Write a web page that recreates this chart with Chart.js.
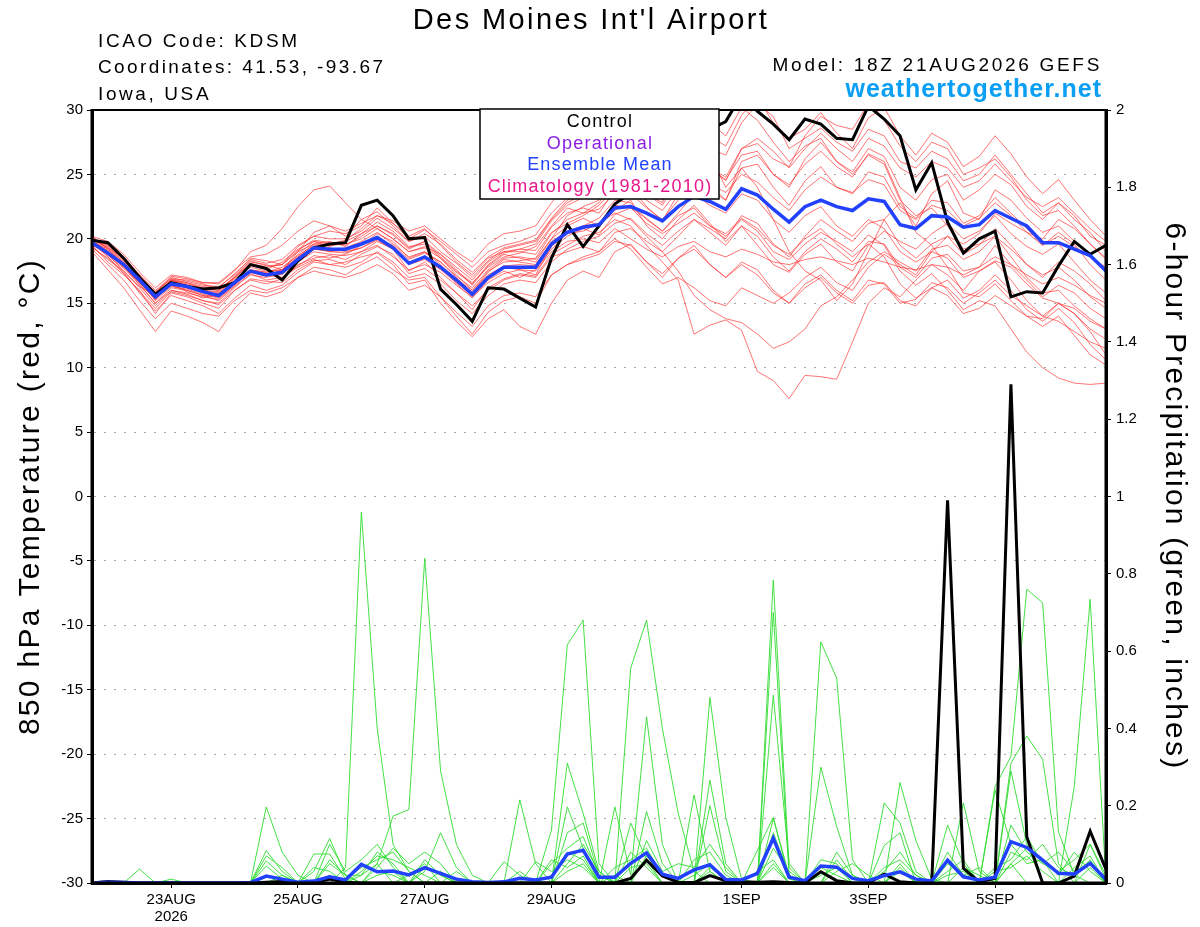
<!DOCTYPE html>
<html>
<head>
<meta charset="utf-8">
<title>Des Moines Int'l Airport - GEFS 850 hPa temperature and precipitation</title>
<script src="https://cdn.jsdelivr.net/npm/chart.js@4.4.1/dist/chart.umd.min.js"></script>
<style>
  html, body { margin: 0; padding: 0; background: #fff; }
  #wrap { width: 1200px; height: 927px; }
</style>
</head>
<body>
<div id="wrap"><canvas id="chart" width="1200" height="927"></canvas></div>
<script>
// GEFS run 18Z 21AUG2026, 6-hourly steps out to 384 h
const FONT = "'Liberation Sans', Arial, Helvetica, sans-serif";

const tickHours = [30, 78, 126, 174, 246, 294, 342];
const tickLabels = ['23AUG', '25AUG', '27AUG', '29AUG', '1SEP', '3SEP', '5SEP'];
const firstTickYear = '2026';

// 850 hPa temperature (C)
const tempControl = [
  19.9,19.7,18.5,17.0,15.7,16.6,16.3,16.1,16.2,16.6,
  18.0,17.7,16.8,18.3,19.3,19.6,19.7,22.6,23.0,21.8,
  20.0,20.1,16.1,14.9,13.6,16.2,16.1,15.4,14.7,18.5,
  21.1,19.4,21.0,22.7,23.6,24.6,25.5,26.5,27.5,28.5,
  29.1,31.2,29.9,28.9,27.7,29.3,28.9,27.8,27.7,30.3,
  29.3,28.0,23.8,25.9,21.3,18.9,20.0,20.6,15.5,15.9,
  15.8,17.9,19.8,18.8,19.5];
const tempMean = [
  19.7,18.9,18.0,16.8,15.5,16.5,16.3,15.9,15.6,16.6,
  17.5,17.2,17.4,18.4,19.3,19.2,19.2,19.6,20.1,19.3,
  18.1,18.6,17.8,16.8,15.7,17.0,17.8,17.8,17.8,19.6,
  20.5,20.9,21.1,22.4,22.5,22.0,21.4,22.5,23.3,22.9,
  22.3,23.9,23.4,22.3,21.3,22.5,23.0,22.5,22.2,23.1,
  22.9,21.1,20.8,21.8,21.7,20.9,21.1,22.2,21.6,21.0,
  19.7,19.7,19.2,18.7,17.5];

const tempMem01 = [
  20.1,19.5,18.4,17.0,15.9,16.9,16.8,16.5,16.1,17.0,
  18.2,18.0,17.6,19.0,20.5,21.0,20.2,21.5,22.1,21.0,
  19.8,20.2,19.0,18.1,17.0,18.3,19.2,19.5,19.8,21.5,
  22.8,23.5,23.9,25.2,25.8,25.0,24.5,26.0,27.2,27.0,
  26.5,29.0,30.5,29.5,27.0,27.8,28.6,27.5,26.8,28.5,
  28.0,26.0,25.5,26.8,26.2,24.5,25.0,26.5,25.0,23.5,
  22.0,22.8,21.5,20.5,19.0];
const tempMem02 = [
  19.5,18.2,17.2,16.0,14.2,15.8,15.5,15.0,14.6,16.0,
  16.8,16.5,16.9,18.0,18.5,18.7,18.4,19.0,19.8,19.2,
  17.5,18.2,17.0,15.8,14.5,16.2,16.9,17.3,17.1,18.8,
  19.5,20.2,20.5,21.5,21.0,19.5,18.2,16.8,12.6,13.3,
  13.7,12.9,9.7,9.0,7.6,9.4,9.3,9.1,12.0,15.0,
  16.2,15.5,16.8,18.0,17.2,16.0,17.5,18.3,17.8,16.5,
  15.4,15.0,14.2,13.0,12.2];
const tempMem03 = [
  19.8,18.8,17.5,16.2,14.8,16.0,15.7,15.2,15.0,16.2,
  17.3,16.8,17.0,17.9,18.7,18.5,18.8,19.5,20.4,19.8,
  18.5,19.0,18.0,16.5,15.4,16.8,17.5,17.0,17.6,19.2,
  20.2,20.8,20.3,21.9,22.4,21.6,20.6,21.8,22.4,21.0,
  20.2,21.5,20.6,19.0,18.4,19.6,20.5,19.8,19.0,20.3,
  19.5,17.5,16.4,17.3,16.0,14.5,15.2,14.8,13.0,11.2,
  10.0,9.2,8.8,8.7,8.8];
const tempMem04 = [
  20.2,19.8,18.8,17.4,16.2,17.2,17.0,16.6,16.5,17.5,
  19.0,19.5,20.8,22.5,23.8,24.1,22.8,21.5,20.8,20.0,
  19.0,19.4,18.8,17.6,16.4,17.9,18.8,18.5,18.2,20.0,
  21.8,22.5,23.0,24.8,24.0,22.5,21.4,23.5,25.2,24.2,
  23.0,25.5,25.8,24.0,22.6,24.5,25.6,24.0,23.5,25.2,
  24.8,22.5,21.6,23.0,22.8,21.2,21.8,23.2,22.0,20.8,
  19.5,20.5,19.6,18.0,16.8];
const tempMem05 = [
  19.0,17.6,16.2,14.5,12.8,14.4,14.0,13.5,12.8,14.6,
  15.8,15.5,15.9,17.0,17.8,17.6,17.2,18.0,18.6,17.6,
  16.8,17.0,15.5,14.0,12.6,14.3,15.2,15.5,15.0,17.2,
  18.0,18.6,19.0,20.5,20.8,19.8,19.0,20.2,21.5,20.5,
  19.5,21.0,20.2,18.6,17.5,19.0,20.0,19.2,18.2,19.8,
  19.6,17.8,17.0,18.5,18.8,17.5,17.8,19.5,18.0,16.8,
  15.5,16.4,15.8,14.6,13.8];
const tempMem06 = [
  19.9,19.0,17.8,16.6,15.3,16.6,16.2,15.8,15.5,16.5,
  17.4,17.1,17.6,18.8,19.8,19.4,19.8,20.4,21.3,20.6,
  19.4,19.6,18.5,17.4,16.5,18.0,18.9,19.2,19.1,20.9,
  22.0,22.4,22.0,23.8,24.8,24.0,23.2,24.5,26.0,25.5,
  24.8,27.0,27.4,26.2,25.6,28.0,29.5,28.8,28.5,30.5,
  29.2,27.2,26.0,27.5,27.0,25.0,25.5,26.2,24.8,23.0,
  21.8,22.2,21.0,19.6,18.4];
const tempMem07 = [
  19.6,18.7,17.7,16.5,15.0,16.2,16.0,15.6,15.2,16.3,
  17.2,17.0,17.3,18.2,19.0,18.8,18.7,19.0,19.5,18.6,
  17.6,18.0,17.4,16.4,15.5,16.6,17.3,17.6,17.5,19.0,
  19.8,20.0,19.7,20.8,20.0,19.2,18.6,19.4,19.8,19.0,
  18.6,19.2,18.8,18.2,18.0,18.4,18.6,18.3,18.0,18.5,
  18.2,17.8,17.6,18.0,17.8,17.2,17.8,18.6,18.0,17.2,
  16.5,17.0,16.4,15.6,15.0];
const tempMem08 = [
  19.4,18.4,17.5,16.3,15.6,16.4,15.9,15.4,15.8,16.8,
  17.5,17.2,17.0,17.8,18.4,18.0,18.2,18.6,18.9,18.0,
  16.5,16.8,15.0,13.6,12.4,13.8,14.5,13.2,12.6,15.0,
  16.8,17.5,17.0,19.0,19.6,18.2,17.0,18.5,19.5,18.0,
  17.0,18.0,17.2,15.8,15.0,16.5,17.2,16.0,15.2,16.8,
  16.5,15.0,15.3,16.6,16.2,15.0,15.8,16.8,15.6,14.8,
  14.0,15.0,14.2,12.8,11.0];
const tempMem09 = [
  20.0,19.6,18.6,17.2,16.0,17.0,16.7,16.4,16.3,17.2,
  18.5,18.3,18.0,19.4,20.2,20.6,20.4,21.0,22.4,21.2,
  20.0,20.7,19.8,18.8,17.8,19.0,19.5,19.8,20.3,22.0,
  23.2,24.0,24.4,26.0,26.8,25.8,25.0,27.5,28.6,28.0,
  27.2,29.6,31.0,29.0,27.8,28.5,29.8,28.2,27.0,29.4,
  30.2,28.0,26.5,28.2,27.5,25.6,26.4,28.0,26.6,24.8,
  23.5,24.6,23.0,21.5,20.2];
const tempMem10 = [
  19.7,18.6,17.4,15.8,14.4,15.6,15.2,14.8,14.2,15.4,
  16.4,16.0,16.4,17.4,18.2,18.0,17.8,18.2,19.0,18.2,
  17.0,17.3,16.5,15.2,14.2,15.6,16.5,16.8,16.6,18.2,
  19.2,19.8,20.2,21.2,21.6,20.4,19.5,20.6,21.5,20.8,
  20.0,21.8,21.2,19.6,18.6,20.2,21.5,20.6,19.8,21.2,
  21.5,19.5,18.5,19.6,20.2,18.8,19.5,20.8,19.5,18.0,
  17.2,17.8,16.8,15.5,14.6];
const tempMem11 = [
  20.1,19.2,18.2,16.9,15.5,16.8,16.5,16.2,16.0,17.0,
  18.0,17.6,18.2,19.2,19.8,19.6,19.9,20.8,21.8,21.2,
  20.2,20.8,19.5,18.2,17.2,18.5,19.0,19.0,18.8,20.5,
  21.2,21.8,22.6,24.0,23.5,22.4,21.5,23.0,24.5,23.8,
  23.0,26.0,26.5,25.0,24.0,26.2,27.5,26.0,25.2,27.0,
  26.4,24.0,23.0,24.6,25.0,23.0,23.8,25.0,24.2,22.5,
  21.5,22.8,21.8,20.2,19.5];
const tempMem12 = [
  19.8,19.1,18.1,16.8,15.2,16.3,16.1,15.7,15.4,16.4,
  17.6,17.4,17.8,18.7,19.5,19.3,19.0,19.3,20.0,19.5,
  18.4,18.9,18.2,17.0,15.8,17.4,18.4,18.2,18.0,19.8,
  20.6,21.0,21.6,23.0,22.8,21.5,20.6,22.0,23.5,22.6,
  22.0,23.5,23.0,21.5,20.5,21.8,22.5,21.0,20.2,21.5,
  20.8,19.0,18.2,19.0,18.5,17.0,17.5,18.2,16.8,15.2,
  14.0,13.6,12.8,12.0,11.5];
const tempMem13 = [
  19.5,18.9,17.9,16.4,15.0,16.0,15.8,15.5,15.3,16.4,
  17.4,17.3,17.5,18.6,19.4,19.0,19.1,19.6,20.2,19.4,
  18.0,18.4,17.6,16.6,15.6,17.0,17.8,17.6,17.2,19.4,
  20.4,20.6,21.2,22.0,21.5,20.2,19.0,17.5,15.6,14.5,
  13.8,13.5,12.6,11.5,12.0,13.0,14.8,15.5,16.8,18.2,
  19.0,18.2,17.5,19.2,19.5,18.4,19.0,20.2,19.2,18.0,
  17.0,18.2,17.5,16.5,15.2];
const tempMem14 = [
  20.0,19.4,18.3,17.2,15.8,17.1,16.9,16.6,16.6,17.6,
  18.6,18.8,19.5,20.6,21.4,21.0,20.6,21.2,21.8,21.4,
  20.6,21.0,20.0,19.0,18.2,19.6,20.4,20.6,21.0,22.8,
  24.2,25.0,25.2,26.0,25.4,24.0,23.0,25.2,26.5,25.6,
  24.5,27.0,27.8,26.8,25.5,27.0,28.2,27.0,26.0,27.8,
  27.2,25.5,24.8,26.0,25.5,24.0,24.5,25.8,24.5,23.2,
  22.5,23.2,22.0,20.8,19.8];
const tempMem15 = [
  19.2,18.0,16.8,15.2,13.8,15.0,14.6,14.2,14.0,15.2,
  16.0,15.8,16.2,17.0,17.5,17.2,17.0,17.4,18.0,17.3,
  16.0,16.4,15.5,14.3,13.2,14.8,15.6,15.8,15.5,17.2,
  18.0,18.4,18.8,19.8,19.5,18.2,17.3,18.5,19.2,18.0,
  17.0,18.2,17.6,16.0,15.0,16.2,17.0,15.8,15.0,16.4,
  16.6,15.2,14.8,16.2,16.8,15.4,16.0,17.2,16.0,14.5,
  13.6,14.6,13.5,11.8,10.6];
const tempMem16 = [
  19.9,19.3,18.5,17.0,15.6,16.7,16.4,16.0,15.8,16.9,
  17.8,17.5,17.6,18.6,19.6,19.5,19.6,20.0,20.8,20.0,
  19.0,19.3,18.5,17.2,16.0,17.5,18.2,18.3,18.5,20.4,
  21.5,22.0,22.3,23.5,23.6,23.0,22.2,23.8,24.8,24.3,
  23.6,25.0,24.4,23.2,22.2,23.8,24.8,24.0,23.6,24.6,
  24.2,22.2,21.5,22.6,22.2,21.0,21.6,22.8,21.8,20.5,
  19.5,20.2,19.4,18.6,17.6];
const tempMem17 = [
  20.0,19.5,18.5,17.1,15.8,16.9,16.6,16.3,16.2,17.3,
  18.4,18.1,18.4,19.5,20.2,20.0,20.0,20.6,21.6,20.8,
  19.8,20.4,19.6,18.4,17.4,18.6,19.3,19.6,19.9,21.6,
  23.0,23.6,24.2,25.5,26.5,26.0,25.6,28.0,29.5,29.0,
  28.0,30.2,29.2,27.5,26.0,27.2,27.8,26.0,25.0,26.5,
  25.8,23.0,21.8,22.4,21.0,19.2,19.6,20.2,18.6,17.0,
  15.8,16.0,14.8,13.8,13.0];
const tempMem18 = [
  19.6,18.8,17.8,16.6,15.4,16.4,16.0,15.6,15.5,16.6,
  17.6,17.4,17.6,18.5,19.2,19.0,18.9,19.3,19.9,19.2,
  18.2,18.6,17.9,16.9,16.0,17.2,17.9,18.0,17.9,19.5,
  20.5,21.0,21.2,22.6,22.4,21.2,20.4,21.2,22.0,21.0,
  20.4,21.6,20.8,19.5,18.8,20.0,20.8,19.6,18.6,19.6,
  18.6,16.5,15.4,16.2,15.6,14.2,14.6,15.6,14.8,14.0,
  13.8,15.0,14.6,13.6,13.0];
const tempMem19 = [
  19.8,19.2,18.0,16.7,15.6,16.8,16.4,16.0,15.9,17.1,
  18.3,17.9,18.0,19.0,19.6,19.8,19.4,20.4,21.0,20.3,
  19.2,19.8,18.6,17.5,16.6,17.8,18.6,18.9,19.4,21.0,
  22.4,22.0,22.8,24.5,25.0,23.5,22.8,26.0,28.0,26.5,
  24.0,25.5,24.0,21.5,19.0,17.5,16.8,15.2,16.5,19.0,
  21.5,22.8,21.0,23.5,24.5,22.0,21.5,23.8,23.0,21.6,
  20.5,21.0,19.8,18.6,17.8];
const tempMem20 = [
  19.3,18.5,17.3,15.9,14.6,15.9,15.6,15.2,14.9,16.0,
  16.9,16.7,16.6,17.6,18.3,18.4,18.0,18.8,19.4,18.8,
  17.3,17.7,16.8,15.8,14.8,16.0,16.8,17.2,17.0,18.6,
  19.0,19.4,19.0,20.0,19.2,17.8,16.5,17.0,16.2,15.2,
  14.8,16.2,15.6,15.0,15.8,17.0,17.8,16.6,16.0,17.8,
  18.8,18.0,17.2,19.0,20.2,19.6,20.4,22.0,21.2,20.5,
  20.0,21.5,20.8,19.6,18.5];
const tempMem21 = [
  20.0,19.3,18.2,16.9,15.7,16.8,16.6,16.1,16.0,17.0,
  18.1,17.8,18.0,19.1,19.9,19.7,19.5,20.2,21.0,20.4,
  19.3,19.8,18.8,17.8,16.8,18.2,19.0,19.2,19.6,21.4,
  22.6,23.2,23.4,24.8,24.6,23.5,22.6,24.6,26.2,25.4,
  24.6,26.5,26.8,25.0,24.2,25.8,26.8,25.6,24.8,26.6,
  26.0,23.2,20.5,19.5,17.8,15.8,15.5,16.5,15.2,14.0,
  13.2,14.0,12.5,11.0,10.2];
const tempMem22 = [
  19.7,18.9,17.9,16.6,15.3,16.5,16.2,15.9,15.7,16.6,
  17.5,17.3,17.2,18.4,19.2,19.1,19.3,19.8,20.5,19.6,
  18.6,19.0,18.2,17.1,16.2,17.6,18.5,18.6,18.4,20.0,
  21.0,21.6,21.0,22.2,23.0,21.0,20.0,21.5,22.6,21.2,
  19.8,21.0,19.5,18.0,17.4,18.8,19.6,18.2,17.5,19.5,
  20.6,19.8,19.2,20.4,21.2,20.0,20.6,21.8,20.4,19.4,
  18.8,19.6,18.2,16.8,15.8];

// 6-hour precipitation (inches)
const precipControl = [
  0,0.004,0.002,0,0,0,0,0,0,0,
  0,0.002,0.004,0,0,0.01,0.002,0,0,0,
  0,0,0,0,0,0,0,0,0,0,
  0,0,0,0,0.012,0.059,0.018,0.002,0.001,0.019,
  0.006,0.003,0.002,0.003,0.001,0,0.029,0.006,0,0,
  0.023,0.003,0,0,0.99,0.038,0.003,0.012,1.29,0.12,
  0,0,0.018,0.134,0.035];
const precipMean = [
  0,0.002,0.001,0,0,0,0,0,0,0,
  0.001,0.018,0.01,0.002,0.005,0.016,0.008,0.048,0.029,0.031,
  0.021,0.04,0.025,0.01,0.003,0.001,0.003,0.012,0.008,0.015,
  0.075,0.085,0.015,0.015,0.051,0.078,0.023,0.012,0.034,0.047,
  0.009,0.008,0.025,0.116,0.015,0.006,0.044,0.041,0.012,0.006,
  0.019,0.029,0.01,0.005,0.059,0.016,0.008,0.015,0.107,0.092,
  0.059,0.025,0.023,0.051,0.009];

const precipMem01 = [
  0,0,0,0.036,0,0.01,0,0,0,0,
  0,0.197,0.08,0.02,0,0,0.04,0.96,0.4,0.1,
  0.03,0,0,0,0,0,0,0.215,0.05,0,
  0.13,0.155,0.02,0,0,0,0,0,0,0.2,
  0.03,0,0,0.784,0.04,0,0,0,0,0,
  0.097,0.13,0,0,0.08,0.02,0,0,0.31,0.38,
  0.32,0.05,0,0,0];
const precipMem02 = [
  0,0,0,0,0,0,0,0,0,0,
  0,0.084,0.03,0,0.03,0.115,0.02,0,0.05,0.173,
  0.19,0.84,0.29,0.1,0.02,0,0,0,0,0.137,
  0.616,0.68,0.05,0,0,0.185,0.05,0,0.228,0.03,
  0,0,0,0.486,0.05,0,0.3,0.146,0.02,0,
  0,0,0,0,0,0,0,0.25,0.327,0.76,
  0.725,0.133,0.02,0,0];
const precipMem03 = [
  0,0,0,0,0,0,0,0,0,0,
  0,0.07,0.04,0,0,0.1,0.03,0.06,0.1,0.04,
  0,0.03,0.13,0.04,0,0,0,0,0,0,
  0.31,0.18,0.03,0,0.556,0.68,0.4,0.18,0.03,0,
  0,0,0,0.7,0.02,0,0.624,0.53,0.06,0,
  0,0.26,0.11,0.01,0,0,0,0,0.05,0,
  0,0,0.25,0.734,0];
const precipMem04 = [
  0,0,0,0,0,0,0,0,0,0,
  0,0.057,0.02,0,0.075,0.075,0.01,0.04,0.06,0.08,
  0.03,0,0,0,0,0,0.055,0.02,0,0,
  0.197,0.09,0,0.197,0.02,0.43,0.1,0,0,0.48,
  0.17,0.01,0,0.167,0.02,0,0,0,0,0,
  0.207,0.155,0.03,0,0,0.207,0.03,0,0.29,0.1,
  0,0,0,0.1,0.02];
const precipMem05 = [
  0,0,0,0,0,0,0,0,0,0,
  0,0.044,0.01,0,0,0.06,0.02,0.02,0.08,0.05,
  0,0.06,0.02,0,0,0,0,0,0.055,0.03,
  0.06,0.04,0,0,0.155,0.06,0,0,0,0.266,
  0.05,0,0.085,0.17,0.01,0,0,0.08,0.02,0,
  0,0,0,0,0.15,0.05,0,0.24,0.1,0.05,
  0.06,0.02,0.08,0.03,0];
const precipMem06 = [
  0,0,0,0,0,0,0,0,0,0,
  0,0,0,0,0.04,0.03,0,0.03,0.07,0.06,
  0.04,0.02,0,0.03,0,0,0,0,0,0.06,
  0.04,0.07,0,0.04,0.06,0.09,0.02,0,0.06,0.08,
  0.02,0,0,0.13,0.02,0,0.06,0.05,0,0,
  0.04,0.06,0.02,0,0.03,0.06,0,0.04,0.06,0.12,
  0.05,0.03,0.06,0.1,0.01];
const precipMem07 = [
  0,0,0,0,0,0,0,0,0,0,
  0,0,0.02,0,0,0.05,0.02,0,0.04,0.09,
  0.05,0.08,0.05,0,0,0,0,0.03,0,0.05,
  0.09,0.12,0.02,0,0,0.11,0.03,0.05,0.04,0.1,
  0.04,0,0,0.09,0.03,0,0,0.03,0.05,0.02,
  0,0.04,0,0,0.05,0.02,0.04,0,0.15,0.08,
  0.05,0.08,0.03,0.05,0];
const precipMem08 = [
  0,0,0,0,0,0,0,0,0,0,
  0,0.02,0,0,0,0.02,0,0.05,0.03,0.02,
  0,0.04,0.02,0,0,0,0,0,0,0,
  0.05,0.1,0.03,0,0.04,0.05,0,0,0.02,0.05,
  0,0,0.03,0.06,0,0,0.04,0.02,0,0,
  0.03,0.08,0.02,0,0,0.04,0.02,0,0.08,0.06,
  0.1,0.04,0.02,0.06,0];
const precipMem09 = [
  0,0,0,0,0,0,0,0,0,0,
  0,0,0,0,0,0,0,0.02,0.05,0,
  0.02,0.05,0,0,0,0,0,0,0,0.02,
  0.08,0.06,0,0,0.08,0.04,0,0,0,0.04,
  0.01,0,0,0.05,0,0,0.02,0.04,0,0,
  0,0.03,0,0,0.02,0.03,0,0,0.05,0.09,
  0.06,0,0.04,0.07,0];
const precipMem10 = [
  0,0,0,0,0,0.004,0,0,0,0,
  0,0,0,0,0,0,0,0,0.02,0.03,
  0,0,0.03,0,0,0,0,0,0,0,
  0.03,0.05,0,0.02,0,0.07,0.02,0,0,0.03,
  0,0,0,0.04,0,0,0,0.06,0.01,0,
  0,0.05,0,0,0,0,0,0.03,0.04,0.07,
  0.03,0,0,0.04,0];

const tempMembers = [tempMem01, tempMem02, tempMem03, tempMem04, tempMem05, tempMem06,
  tempMem07, tempMem08, tempMem09, tempMem10, tempMem11, tempMem12, tempMem13, tempMem14,
  tempMem15, tempMem16, tempMem17, tempMem18, tempMem19, tempMem20, tempMem21, tempMem22];
const precipMembers = [precipMem01, precipMem02, precipMem03, precipMem04, precipMem05,
  precipMem06, precipMem07, precipMem08, precipMem09, precipMem10];

// forecast hour of each point
const hours = [];
for (let h = 0; h <= 384; h += 6) hours.push(h);

const datasets = [];
datasets.push({ label: 'Ensemble Mean', data: tempMean, yAxisID: 'yT', borderColor: '#2241ff', borderWidth: 3.5, order: 0 });
datasets.push({ label: 'Ensemble Mean precip', data: precipMean, yAxisID: 'yP', borderColor: '#2241ff', borderWidth: 3.5, order: 0 });
datasets.push({ label: 'Control', data: tempControl, yAxisID: 'yT', borderColor: '#000', borderWidth: 3, order: 1 });
datasets.push({ label: 'Control precip', data: precipControl, yAxisID: 'yP', borderColor: '#000', borderWidth: 3, order: 1 });
tempMembers.forEach((m, i) => {
  datasets.push({ label: 'Member ' + (i + 1), data: m, yAxisID: 'yT', borderColor: 'rgba(255,40,40,0.72)', borderWidth: 0.9, order: 2 });
});
precipMembers.forEach((m, i) => {
  datasets.push({ label: 'Member precip ' + (i + 1), data: m, yAxisID: 'yP', borderColor: '#2fdc2f', borderWidth: 0.9, order: 3 });
});

function spacedText(ctx, text, x, y, font, spacing, color, align) {
  ctx.font = font;
  ctx.fillStyle = color;
  ctx.textAlign = align;
  ctx.letterSpacing = spacing;
  ctx.fillText(text, x, y);
  ctx.letterSpacing = '0px';
}

const chartDecor = {
  id: 'chartDecor',
  beforeDraw(chart) {
    const ctx = chart.ctx;
    ctx.save();
    ctx.fillStyle = '#fff';
    ctx.fillRect(0, 0, chart.width, chart.height);
    ctx.restore();
  },
  afterDatasetsDraw(chart) {
    const ctx = chart.ctx;
    const a = chart.chartArea;
    ctx.save();
    // frame
    ctx.strokeStyle = '#000';
    ctx.lineWidth = 2;
    ctx.beginPath();
    ctx.moveTo(a.left, a.top);
    ctx.lineTo(a.right, a.top);
    ctx.stroke();
    ctx.lineWidth = 3;
    ctx.beginPath();
    ctx.moveTo(a.left, a.top - 1);
    ctx.lineTo(a.left, a.bottom);
    ctx.lineTo(a.right, a.bottom);
    ctx.lineTo(a.right, a.top - 1);
    ctx.stroke();

    // legend box
    ctx.fillStyle = '#fff';
    ctx.fillRect(480, 109, 239, 90);
    ctx.lineWidth = 1.5;
    ctx.strokeRect(480, 109, 239, 90);
    ctx.textBaseline = 'alphabetic';
    const rows = [['Control', '#000'], ['Operational', '#8a1ee6'], ['Ensemble Mean', '#2241ff'], ['Climatology (1981-2010)', '#e8168c']];
    rows.forEach((r, i) => {
      spacedText(ctx, r[0], 600, 127 + i * 21.5, '18px ' + FONT, '1.2px', r[1], 'center');
    });
    ctx.restore();
  },
  afterDraw(chart) {
    const ctx = chart.ctx;
    const a = chart.chartArea;
    ctx.save();
    ctx.textBaseline = 'alphabetic';
    spacedText(ctx, "Des Moines Int'l Airport", 591, 29, '29px ' + FONT, '2.4px', '#000', 'center');

    const small = '19px ' + FONT;
    spacedText(ctx, 'ICAO Code: KDSM', 98, 47, small, '2.6px', '#000', 'left');
    spacedText(ctx, 'Coordinates: 41.53, -93.67', 98, 73, small, '2.4px', '#000', 'left');
    spacedText(ctx, 'Iowa, USA', 98, 100, small, '2.6px', '#000', 'left');
    spacedText(ctx, 'Model: 18Z 21AUG2026 GEFS', 1102, 71, small, '2.7px', '#000', 'right');
    spacedText(ctx, 'weathertogether.net', 1102, 97, 'bold 25px ' + FONT, '1px', '#0a9ff5', 'right');

    // axis titles
    const midY = (a.top + a.bottom) / 2;
    ctx.textBaseline = 'middle';
    ctx.save();
    ctx.translate(31, midY);
    ctx.rotate(-Math.PI / 2);
    spacedText(ctx, '850 hPa Temperature (red, °C)', 0, 0, '30px ' + FONT, '2.3px', '#000', 'center');
    ctx.restore();
    ctx.save();
    ctx.translate(1174, midY);
    ctx.rotate(Math.PI / 2);
    spacedText(ctx, '6-hour Precipitation (green, inches)', 0, 0, '30px ' + FONT, '2.2px', '#000', 'center');
    ctx.restore();
    ctx.restore();
  }
};

new Chart(document.getElementById('chart'), {
  type: 'line',
  data: { labels: hours, datasets: datasets },
  options: {
    responsive: false,
    animation: false,
    devicePixelRatio: 1,
    layout: { padding: { top: 110, left: 0, right: 0, bottom: 0 } },
    elements: {
      point: { radius: 0, hoverRadius: 0 },
      line: { tension: 0, fill: false }
    },
    plugins: { legend: { display: false }, tooltip: { enabled: false } },
    events: [],
    scales: {
      x: {
        type: 'linear',
        min: 0,
        max: 384,
        afterFit(scale) { scale.height = 44; },
        afterBuildTicks(scale) { scale.ticks = tickHours.map(v => ({ value: v })); },
        grid: { drawOnChartArea: false, tickLength: 5, tickColor: '#000', tickWidth: 1 },
        border: { display: true, color: '#000', width: 3 },
        ticks: {
          autoSkip: false,
          maxRotation: 0,
          minRotation: 0,
          padding: 3,
          color: '#000',
          font: { family: FONT, size: 15, lineHeight: 1.15 },
          callback(value) {
            const i = tickHours.indexOf(value);
            if (i === 0) return [tickLabels[0], firstTickYear];
            return i >= 0 ? tickLabels[i] : '';
          }
        }
      },
      yT: {
        type: 'linear',
        position: 'left',
        min: -30,
        max: 30,
        afterFit(scale) { scale.width = 92; },
        ticks: { stepSize: 5, padding: 4, color: '#000', font: { family: FONT, size: 15 } },
        grid: {
          color: c => (c.tick && Math.abs(c.tick.value) === 30) ? 'rgba(0,0,0,0)' : '#a8a8a8',
          lineWidth: 1,
          tickLength: 5,
          tickColor: '#000',
          tickWidth: 1
        },
        border: { display: true, color: '#000', width: 3, dash: [2, 8] }
      },
      yP: {
        type: 'linear',
        position: 'right',
        min: 0,
        max: 2,
        afterFit(scale) { scale.width = 94; },
        ticks: {
          stepSize: 0.2,
          padding: 5,
          color: '#000',
          font: { family: FONT, size: 15 },
          callback: v => String(Math.round(v * 10) / 10)
        },
        grid: { drawOnChartArea: false, tickLength: 5, tickColor: '#000', tickWidth: 1 },
        border: { display: true, color: '#000', width: 3 }
      }
    }
  },
  plugins: [chartDecor]
});
</script>
</body>
</html>
